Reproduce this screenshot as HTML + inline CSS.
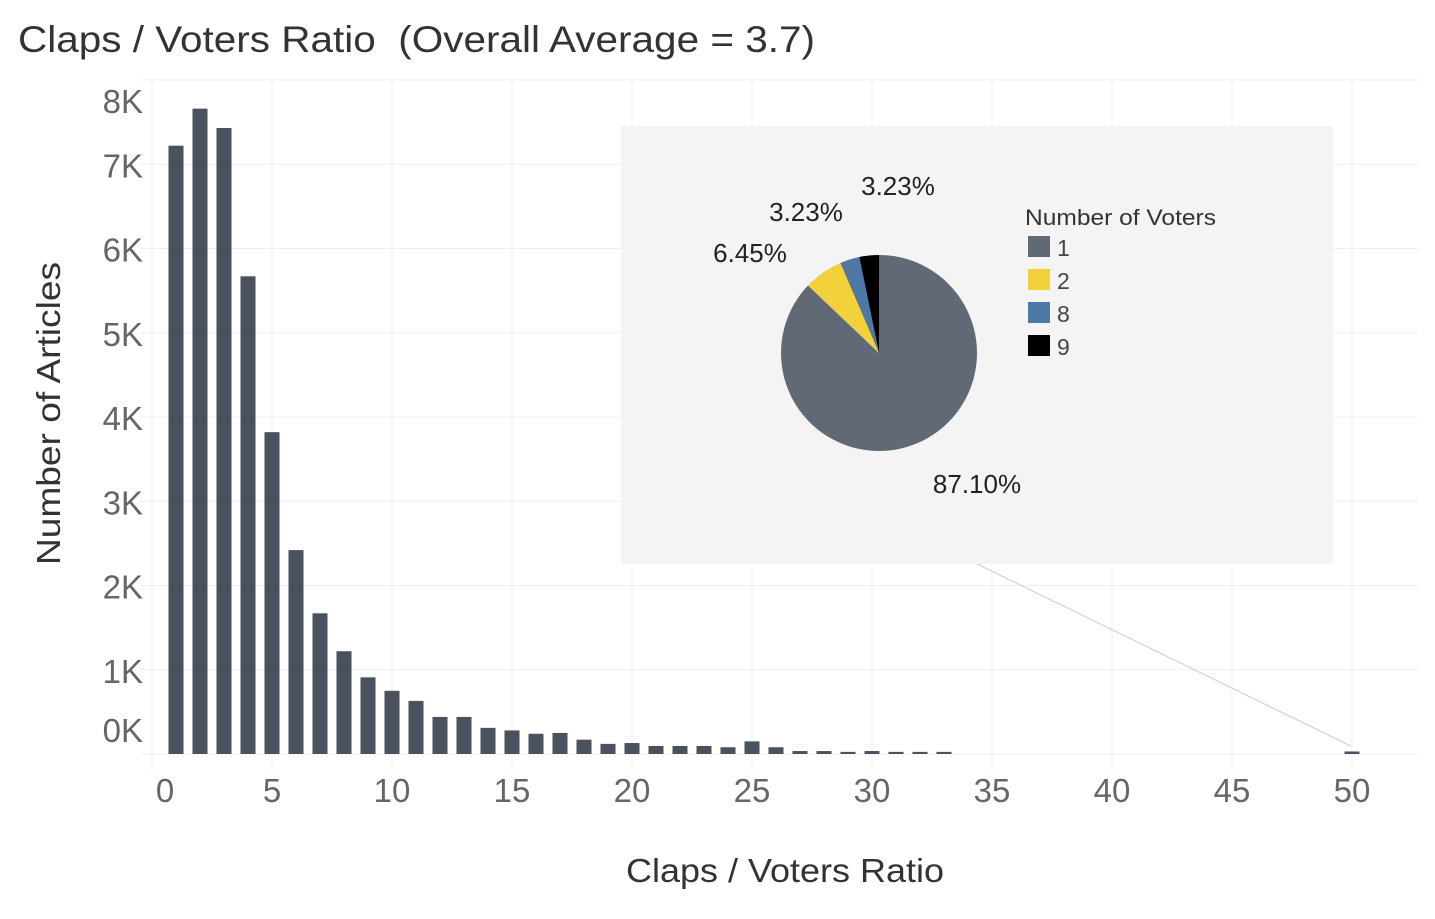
<!DOCTYPE html>
<html><head><meta charset="utf-8"><style>
body{margin:0;background:#fff;}
svg{display:block;font-family:"Liberation Sans","DejaVu Sans",sans-serif;}
</style></head><body>
<svg id="chart" width="1435" height="919" xmlns="http://www.w3.org/2000/svg">
<text x="18" y="52" font-size="37" fill="#333" textLength="797" lengthAdjust="spacingAndGlyphs" style="white-space:pre">Claps / Voters Ratio  (Overall Average = 3.7)</text>
<g id="grid"></g>
<g id="bars"></g>
<g id="xticks"></g>
<g id="yticks"></g>
<text x="626" y="882" font-size="33" fill="#333" textLength="318" lengthAdjust="spacingAndGlyphs">Claps / Voters Ratio</text>
<text transform="translate(60,565) rotate(-90)" font-size="33" fill="#333" textLength="303" lengthAdjust="spacingAndGlyphs">Number of Articles</text>
<line x1="977" y1="564" x2="1351" y2="746" stroke="#ccc" stroke-width="1"/>
<rect x="621" y="126" width="712" height="438" fill="#f4f4f4"/>
<g id="pie"></g>
<g id="legend">
<text x="1025" y="225" font-size="22" fill="#333" textLength="191" lengthAdjust="spacingAndGlyphs">Number of Voters</text>
</g>
</svg>
<script>
const ratios=[1,2,3,4,5,6,7,8,9,10,11,12,13,14,15,16,17,18,19,20,21,22,23,24,25,26,27,28,29,30,31,32,33,50];
const counts=[7220,7660,7430,5670,3820,2420,1670,1220,910,750,630,440,440,310,280,240,250,170,120,130,95,95,95,80,150,80,35,35,25,35,25,25,25,30];
const xTicks=[0,5,10,15,20,25,30,35,40,45,50];
const yTicks=[0,1000,2000,3000,4000,5000,6000,7000,8000];
const yTickLabels=["0K","1K","2K","3K","4K","5K","6K","7K","8K"];
const pieLabels=["1","2","8","9"];
const pieShares=[87.10,6.45,3.23,3.23];
const pieColors=["#616a74","#f3d13a","#4e79a7","#000000"];
const NS="http://www.w3.org/2000/svg";
const X=v=>152+24*v, Y=v=>754-v*0.08425;
function mk(tag,attrs,parent,txt){const e=document.createElementNS(NS,tag);for(const k in attrs)e.setAttribute(k,attrs[k]);if(txt!==undefined)e.textContent=txt;document.getElementById(parent).appendChild(e);return e;}
xTicks.forEach(t=>{const l=mk('line',{x1:X(t),x2:X(t),y1:80,y2:770,stroke:'#efefef','stroke-width':1},'grid');


const tx=mk('text',{x:t===0?165:X(t),y:802,'font-size':33,fill:'#666','text-anchor':'middle'},'xticks',String(t));

});
yTicks.forEach((t,i)=>{const l=mk('line',{x1:140,x2:1418,y1:Y(t),y2:Y(t),stroke:'#efefef','stroke-width':1},'grid');


let ty=Y(t)+13; if(t===0)ty=742; if(t===8000)ty=113;
const tx=mk('text',{x:143,y:ty,'font-size':33,fill:'#666','text-anchor':'end'},'yticks',yTickLabels[i]);

});
ratios.forEach((r,i)=>{const b=mk('rect',{x:X(r)-7.5,y:Y(counts[i]),width:15,height:754-Y(counts[i]),fill:'#4a515d'},'bars');

});
const cx=879,cy=353,R=98;let a=0;
const labelPos=[[977,493],[750,262],[806,221],[898,195]];
pieShares.forEach((s,i)=>{const a0=a,a1=a+s/100*2*Math.PI;a=a1;
const p=ang=>[cx+R*Math.sin(ang),cy-R*Math.cos(ang)];
const [x0,y0]=p(a0),[x1,y1]=p(a1);
const sl=mk('path',{d:`M${cx},${cy}L${x0},${y0}A${R},${R} 0 ${a1-a0>Math.PI?1:0} 1 ${x1},${y1}Z`,fill:pieColors[i]},'pie');


const lt=mk('text',{x:labelPos[i][0],y:labelPos[i][1],'font-size':26,fill:'#222','text-anchor':'middle'},'pie',pieShares[i].toFixed(2)+'%');


const sw=mk('rect',{x:1028,y:236+i*33,width:22,height:21,fill:pieColors[i]},'legend');


const lg=mk('text',{x:1057,y:256+i*33,'font-size':23,fill:'#444'},'legend',pieLabels[i]);

});
</script>
</body></html>
